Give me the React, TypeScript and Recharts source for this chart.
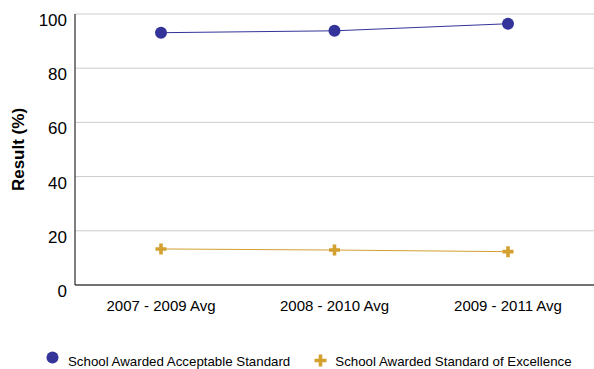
import React from 'react';
import { LineChart, Line, XAxis, YAxis, CartesianGrid } from 'recharts';

const periods = ['2007 - 2009 Avg', '2008 - 2010 Avg', '2009 - 2011 Avg'];
const acceptable = [93.1, 93.8, 96.4];
const excellence = [13.3, 12.9, 12.3];
const yTicks = [0, 20, 40, 60, 80, 100];

const BLUE = '#333399';
const GOLD = '#D4A030';
const FONT = '"Liberation Sans", Arial, sans-serif';

const data = periods.map((p, i) => ({
  period: p,
  acceptable: acceptable[i],
  excellence: excellence[i],
}));

const CrossDot = (props: any) => {
  const { cx, cy, key } = props;
  if (cx == null || cy == null) return null;
  return (
    <path
      key={key}
      d={`M${cx - 1.8},${cy - 5.5}h3.6v3.7h3.7v3.6h-3.7v3.7h-3.6v-3.7h-3.7v-3.6h3.7z`}
      fill={GOLD}
    />
  );
};

const YTick = ({ x, y, payload }: any) => (
  <text x={x} y={y + 6} dy="0.355em" textAnchor="end" fontSize={17} fill="#000" fontFamily={FONT}>
    {payload.value}
  </text>
);

export default function App() {
  return (
    <div style={{ position: 'absolute', left: 0, top: 0, width: 594, height: 369, background: '#fff', fontFamily: FONT }}>
      <LineChart width={594} height={369} data={data} margin={{ top: 14, right: 0, left: 15, bottom: 0 }}>
        <CartesianGrid vertical={false} stroke="#cccccc" />
        <XAxis
          dataKey="period"
          height={84}
          padding={{ left: 86, right: 86 }}
          axisLine={{ stroke: '#000' }}
          tickLine={false}
          tickSize={13}
          tickMargin={2}
          interval={0}
          tick={{ fontSize: 15, fill: '#000', fontFamily: FONT }}
        />
        <YAxis
          width={60}
          domain={[0, 100]}
          ticks={yTicks}
          axisLine={{ stroke: '#000' }}
          tickLine={false}
          tick={<YTick />}
          label={{
            value: 'Result (%)',
            angle: -90,
            position: 'insideLeft',
            offset: 3,
            style: { fontSize: 17, fontWeight: 'bold', fill: '#000', fontFamily: FONT, textAnchor: 'middle' },
          }}
        />
        <Line
          dataKey="acceptable"
          stroke={BLUE}
          strokeWidth={1}
          dot={{ r: 6, fill: BLUE, stroke: 'none' }}
          isAnimationActive={false}
        />
        <Line
          dataKey="excellence"
          stroke={GOLD}
          strokeWidth={1}
          dot={<CrossDot />}
          isAnimationActive={false}
        />
      </LineChart>
      <div
        style={{
          position: 'absolute',
          left: 46,
          top: 354,
          display: 'flex',
          alignItems: 'flex-start',
          fontSize: 13.3,
          lineHeight: '15px',
          color: '#000',
          whiteSpace: 'nowrap',
        }}
      >
        <svg width={13} height={13} style={{ marginTop: -3, marginRight: 9 }}>
          <circle cx={6.5} cy={6.5} r={6} fill={BLUE} />
        </svg>
        <span style={{ marginRight: 24 }}>School Awarded Acceptable Standard</span>
        <svg width={13} height={13} style={{ marginTop: 0, marginRight: 8 }}>
          <path d="M4.7,0.5h3.6v4.2h4.2v3.6h-4.2v4.2h-3.6v-4.2h-4.2v-3.6h4.2z" fill={GOLD} />
        </svg>
        <span>School Awarded Standard of Excellence</span>
      </div>
    </div>
  );
}
